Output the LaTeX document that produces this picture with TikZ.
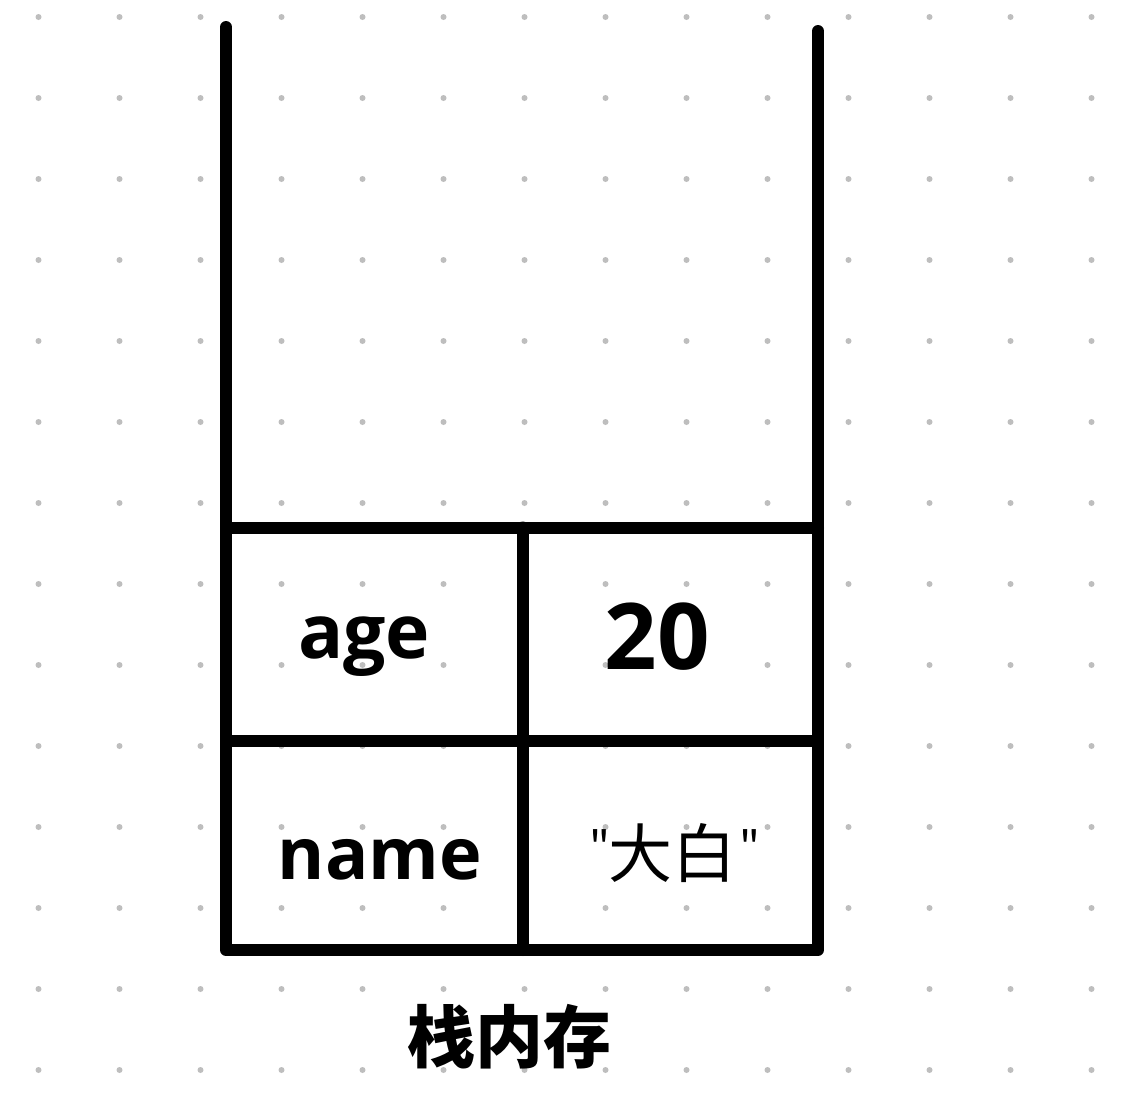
\documentclass[tikz,border=0pt]{standalone}
\usepackage{fontspec}
\setmainfont{Open Sans}
\newfontfamily\cjk{Noto Sans CJK SC}
\definecolor{dotc}{RGB}{190,190,190}
\newcommand{\smallquote}{{\fontsize{44}{50}\selectfont\raisebox{14pt}{\char"22}}}
\begin{document}
\begin{tikzpicture}[x=1pt,y=-1pt,
  frame/.style={line width=12pt,line cap=round,line join=round},
  lbl/.style={inner sep=0pt,font=\bfseries\fontsize{72}{80}\selectfont},
  num/.style={inner sep=0pt,font=\bfseries\fontsize{92}{100}\selectfont},
  cjklbl/.style={inner sep=0pt,font=\cjk\fontsize{64}{72}\selectfont},
  cjktitle/.style={inner sep=0pt,font=\cjk\bfseries\fontsize{68}{76}\selectfont}]
\useasboundingbox (0,0) rectangle (1130,1100);
\fill[white] (0,0) rectangle (1130,1100);
\foreach \i in {0,...,13}{
  \foreach \j in {0,...,13}{
    \fill[dotc] (38.5+81*\i,17+81*\j) circle (3pt);
  }
}
% frame
\coordinate (tl) at (226,27);
\coordinate (bl) at (226,950);
\coordinate (br) at (818,950);
\coordinate (tr) at (818,31);
\draw[frame] (tl) -- (bl) -- (br) -- (tr);
\coordinate (h1l) at (226,527.5);
\coordinate (h1r) at (818,527.5);
\draw[frame] (h1l) -- (h1r);
\coordinate (h2l) at (226,741);
\coordinate (h2r) at (812,741);
\draw[frame] (h2l) -- (h2r);
\coordinate (vm1) at (522.5,527.5);
\coordinate (vm2) at (522.5,950);
\draw[frame] (vm1) -- (vm2);
% labels
\node[lbl,anchor=base,font=\bfseries\fontsize{75}{80}\selectfont] (age) at (364,658) {age};
\node[num,anchor=base] (val20) at (657,669) {20};
\node[lbl,anchor=base] (name) at (380,879) {name};
\node[cjklbl] (dabai) at (675,853) {\smallquote\kern-2pt 大白\kern3pt\smallquote};
\node[cjktitle] (title) at (509,1037) {栈内存};
\end{tikzpicture}
\end{document}
